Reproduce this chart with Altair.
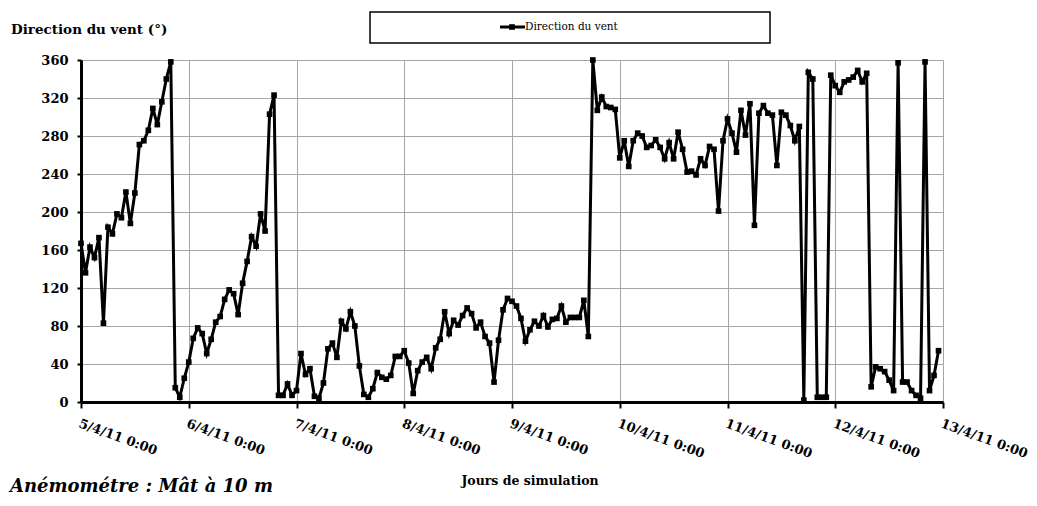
import altair as alt
import pandas as pd

day_labels = ["5/4/11 0:00", "6/4/11 0:00", "7/4/11 0:00", "8/4/11 0:00", "9/4/11 0:00",
              "10/4/11 0:00", "11/4/11 0:00", "12/4/11 0:00", "13/4/11 0:00"]
day_hours = [0, 24, 48, 72, 96, 120, 144, 168, 192]
y_ticks = [0, 40, 80, 120, 160, 200, 240, 280, 320, 360]

# hourly wind direction (degrees), 5/4/11 0:00 -> 12/4/11 23:00
day1 = [167, 136, 163, 152, 173, 83, 184, 177, 198, 194, 221, 188, 220, 271, 275, 286, 309, 292, 316, 340, 358, 15, 5, 25]
day2 = [42, 67, 78, 72, 51, 66, 84, 90, 108, 118, 114, 92, 125, 148, 174, 164, 198, 180, 303, 323, 7, 7, 19, 7]
day3 = [12, 51, 29, 35, 6, 4, 20, 56, 62, 47, 85, 77, 95, 80, 38, 8, 5, 14, 31, 26, 24, 28, 48, 48]
day4 = [54, 41, 9, 33, 42, 47, 35, 57, 66, 95, 72, 86, 81, 91, 99, 93, 78, 84, 69, 62, 21, 65, 97, 109]
day5 = [106, 101, 88, 64, 76, 85, 80, 91, 79, 87, 88, 101, 84, 89, 89, 89, 107, 69, 360, 307, 321, 311, 310, 308]
day6 = [257, 275, 248, 275, 283, 280, 268, 270, 276, 268, 256, 273, 256, 284, 266, 242, 243, 239, 256, 249, 269, 266, 201, 275]
day7 = [298, 283, 263, 307, 281, 314, 186, 304, 312, 304, 302, 249, 305, 302, 291, 275, 290, 2, 347, 340, 5, 5, 5, 344]
day8 = [333, 326, 337, 339, 342, 349, 337, 346, 16, 37, 35, 32, 23, 12, 357, 21, 21, 12, 7, 4, 358, 12, 28, 54]

direction = day1 + day2 + day3 + day4 + day5 + day6 + day7 + day8
hours = list(range(len(direction)))
df = pd.DataFrame({"h": hours, "dir": direction})

W, H = 862, 342
SERIF = "DejaVu Serif"

label_expr = "[" + ",".join("'" + s + "'" for s in day_labels) + "][round(datum.value/24)]"

x_enc = alt.X("h:Q",
              scale=alt.Scale(domain=[0, 192], nice=False, zero=False),
              axis=alt.Axis(values=day_hours, labelExpr=label_expr, labelAngle=20,
                            labelAlign="left", labelBaseline="top", labelFlush=False,
                            labelOverlap=False, labelFont=SERIF, labelFontWeight="bold",
                            labelFontSize=13, labelColor="black",
                            labelPadding=9, tickColor="black", tickSize=6, tickWidth=2,
                            domainColor="black", domainWidth=3, gridColor="#a6a6a6",
                            gridWidth=1, title=None))
y_enc = alt.Y("dir:Q",
              scale=alt.Scale(domain=[0, 360], nice=False),
              axis=alt.Axis(values=y_ticks, labelFont=SERIF, labelFontWeight="bold",
                            labelFontSize=13, labelColor="black", labelPadding=9,
                            labelOverlap=False, labelFlush=False,
                            tickColor="black", tickSize=4, tickWidth=2,
                            domainColor="black", domainWidth=3, gridColor="#a6a6a6",
                            gridWidth=1, title=None))

base = alt.Chart(df)
line = base.mark_line(color="black", strokeWidth=3).encode(x=x_enc, y=y_enc)
pts = base.mark_square(color="black", size=32, opacity=1).encode(x=x_enc, y=y_enc)

one = pd.DataFrame({"k": [0]})
legend_box = alt.Chart(one).mark_rect(fill="white", stroke="black", strokeWidth=1.5).encode(
    x=alt.value(289), x2=alt.value(689), y=alt.value(-48), y2=alt.value(-17))
legend_line = alt.Chart(one).mark_rule(color="black", strokeWidth=3).encode(
    x=alt.value(419), x2=alt.value(444), y=alt.value(-33))
legend_pt = alt.Chart(one).mark_square(color="black", size=32, opacity=1).encode(
    x=alt.value(431), y=alt.value(-33))
legend_txt = alt.Chart(pd.DataFrame({"t": ["Direction du vent"]})).mark_text(
    font=SERIF, fontSize=10.5, align="left", baseline="middle", color="black").encode(
    text="t:N", x=alt.value(444), y=alt.value(-33))

ytitle = alt.Chart(pd.DataFrame({"t": ["Direction du vent (°)"]})).mark_text(
    font=SERIF, fontSize=13.5, fontWeight="bold", align="left", baseline="middle", color="black").encode(
    text="t:N", x=alt.value(-70), y=alt.value(-30))
xtitle = alt.Chart(pd.DataFrame({"t": ["Jours de simulation"]})).mark_text(
    font=SERIF, fontSize=12.5, fontWeight="bold", align="center", baseline="middle", color="black").encode(
    text="t:N", x=alt.value(449), y=alt.value(421))
note = alt.Chart(pd.DataFrame({"t": ["Anémométre : Mât à 10 m"]})).mark_text(
    font=SERIF, fontSize=18, fontWeight="bold", fontStyle="italic", align="left",
    baseline="alphabetic", color="black").encode(
    text="t:N", x=alt.value(-71), y=alt.value(432))

chart = alt.layer(line, pts, legend_box, legend_line, legend_pt, legend_txt, ytitle, xtitle, note).properties(
    width=W, height=H,
    autosize=alt.AutoSizeParams(type="none"),
    padding={"left": 73, "top": 52, "right": 86, "bottom": 96},
).configure_view(stroke=None).configure(background="white")

chart.save("out.html", embed_options={"renderer": "svg", "actions": False})
